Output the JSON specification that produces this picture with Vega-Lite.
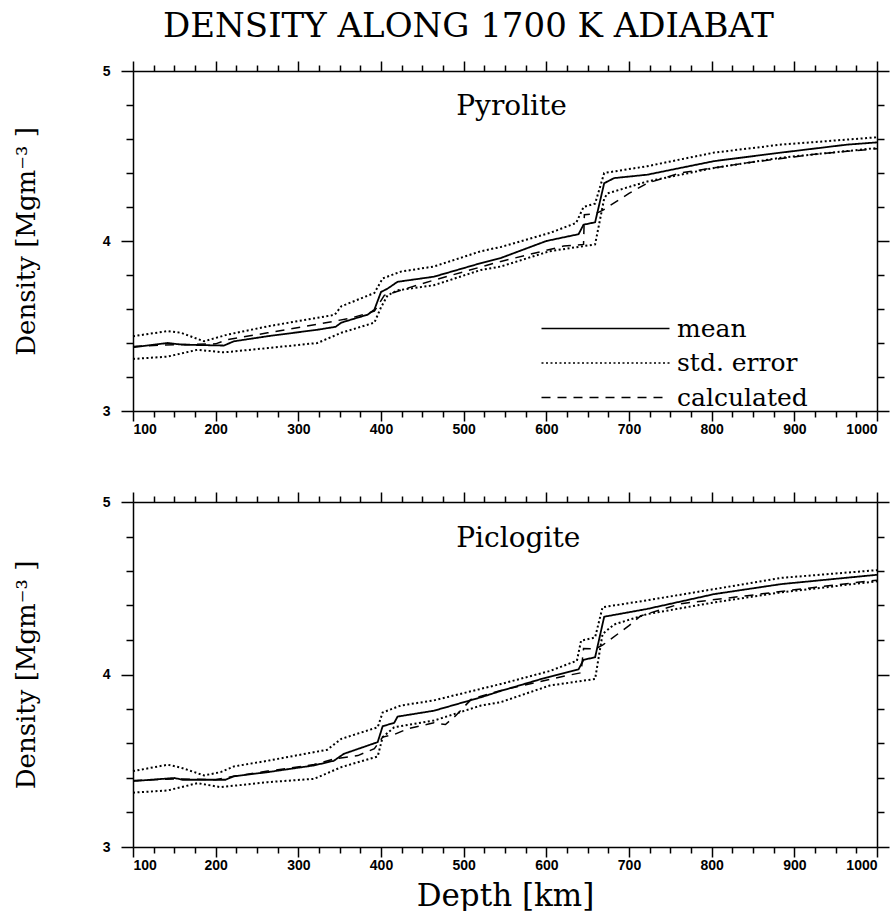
{
 "$schema": "https://vega.github.io/schema/vega-lite/v6.json",
 "padding": {"left": 13, "top": 10, "right": 0, "bottom": 0},
 "background": "white",
 "title": {"text": "DENSITY ALONG 1700 K ADIABAT", "font": "DejaVu Serif", "fontSize": 34, "fontWeight": "normal", "color": "black", "anchor": "middle", "offset": 16, "dx": 17},
 "datasets": {
  "curves": [
   {"panel":"Pyrolite","series":"mean","curve":"mean","depth":100,"density":3.375},
   {"panel":"Pyrolite","series":"mean","curve":"mean","depth":142,"density":3.40},
   {"panel":"Pyrolite","series":"mean","curve":"mean","depth":160,"density":3.39},
   {"panel":"Pyrolite","series":"mean","curve":"mean","depth":210,"density":3.385},
   {"panel":"Pyrolite","series":"mean","curve":"mean","depth":222,"density":3.41},
   {"panel":"Pyrolite","series":"mean","curve":"mean","depth":263,"density":3.44},
   {"panel":"Pyrolite","series":"mean","curve":"mean","depth":323,"density":3.478},
   {"panel":"Pyrolite","series":"mean","curve":"mean","depth":345,"density":3.495},
   {"panel":"Pyrolite","series":"mean","curve":"mean","depth":352,"density":3.52},
   {"panel":"Pyrolite","series":"mean","curve":"mean","depth":384,"density":3.567},
   {"panel":"Pyrolite","series":"mean","curve":"mean","depth":392,"density":3.596},
   {"panel":"Pyrolite","series":"mean","curve":"mean","depth":400,"density":3.70},
   {"panel":"Pyrolite","series":"mean","curve":"mean","depth":408,"density":3.72},
   {"panel":"Pyrolite","series":"mean","curve":"mean","depth":420,"density":3.76},
   {"panel":"Pyrolite","series":"mean","curve":"mean","depth":464,"density":3.79},
   {"panel":"Pyrolite","series":"mean","curve":"mean","depth":521,"density":3.87},
   {"panel":"Pyrolite","series":"mean","curve":"mean","depth":545,"density":3.90},
   {"panel":"Pyrolite","series":"mean","curve":"mean","depth":600,"density":4.0},
   {"panel":"Pyrolite","series":"mean","curve":"mean","depth":639,"density":4.04},
   {"panel":"Pyrolite","series":"mean","curve":"mean","depth":645,"density":4.096},
   {"panel":"Pyrolite","series":"mean","curve":"mean","depth":659,"density":4.11},
   {"panel":"Pyrolite","series":"mean","curve":"mean","depth":670,"density":4.34},
   {"panel":"Pyrolite","series":"mean","curve":"mean","depth":682,"density":4.37},
   {"panel":"Pyrolite","series":"mean","curve":"mean","depth":722,"density":4.39},
   {"panel":"Pyrolite","series":"mean","curve":"mean","depth":803,"density":4.47},
   {"panel":"Pyrolite","series":"mean","curve":"mean","depth":884,"density":4.52},
   {"panel":"Pyrolite","series":"mean","curve":"mean","depth":964,"density":4.567},
   {"panel":"Pyrolite","series":"mean","curve":"mean","depth":1000,"density":4.58},

   {"panel":"Pyrolite","series":"std. error","curve":"upper","depth":100,"density":3.44},
   {"panel":"Pyrolite","series":"std. error","curve":"upper","depth":142,"density":3.47},
   {"panel":"Pyrolite","series":"std. error","curve":"upper","depth":158,"density":3.46},
   {"panel":"Pyrolite","series":"std. error","curve":"upper","depth":186,"density":3.41},
   {"panel":"Pyrolite","series":"std. error","curve":"upper","depth":214,"density":3.449},
   {"panel":"Pyrolite","series":"std. error","curve":"upper","depth":263,"density":3.498},
   {"panel":"Pyrolite","series":"std. error","curve":"upper","depth":344,"density":3.566},
   {"panel":"Pyrolite","series":"std. error","curve":"upper","depth":352,"density":3.616},
   {"panel":"Pyrolite","series":"std. error","curve":"upper","depth":392,"density":3.694},
   {"panel":"Pyrolite","series":"std. error","curve":"upper","depth":402,"density":3.78},
   {"panel":"Pyrolite","series":"std. error","curve":"upper","depth":424,"density":3.82},
   {"panel":"Pyrolite","series":"std. error","curve":"upper","depth":464,"density":3.85},
   {"panel":"Pyrolite","series":"std. error","curve":"upper","depth":521,"density":3.94},
   {"panel":"Pyrolite","series":"std. error","curve":"upper","depth":545,"density":3.965},
   {"panel":"Pyrolite","series":"std. error","curve":"upper","depth":604,"density":4.047},
   {"panel":"Pyrolite","series":"std. error","curve":"upper","depth":636,"density":4.106},
   {"panel":"Pyrolite","series":"std. error","curve":"upper","depth":645,"density":4.20},
   {"panel":"Pyrolite","series":"std. error","curve":"upper","depth":659,"density":4.22},
   {"panel":"Pyrolite","series":"std. error","curve":"upper","depth":670,"density":4.40},
   {"panel":"Pyrolite","series":"std. error","curve":"upper","depth":722,"density":4.44},
   {"panel":"Pyrolite","series":"std. error","curve":"upper","depth":803,"density":4.52},
   {"panel":"Pyrolite","series":"std. error","curve":"upper","depth":884,"density":4.567},
   {"panel":"Pyrolite","series":"std. error","curve":"upper","depth":1000,"density":4.61},

   {"panel":"Pyrolite","series":"std. error","curve":"lower","depth":100,"density":3.306},
   {"panel":"Pyrolite","series":"std. error","curve":"lower","depth":142,"density":3.32},
   {"panel":"Pyrolite","series":"std. error","curve":"lower","depth":178,"density":3.36},
   {"panel":"Pyrolite","series":"std. error","curve":"lower","depth":210,"density":3.345},
   {"panel":"Pyrolite","series":"std. error","curve":"lower","depth":263,"density":3.37},
   {"panel":"Pyrolite","series":"std. error","curve":"lower","depth":323,"density":3.40},
   {"panel":"Pyrolite","series":"std. error","curve":"lower","depth":352,"density":3.46},
   {"panel":"Pyrolite","series":"std. error","curve":"lower","depth":392,"density":3.52},
   {"panel":"Pyrolite","series":"std. error","curve":"lower","depth":400,"density":3.61},
   {"panel":"Pyrolite","series":"std. error","curve":"lower","depth":408,"density":3.68},
   {"panel":"Pyrolite","series":"std. error","curve":"lower","depth":420,"density":3.71},
   {"panel":"Pyrolite","series":"std. error","curve":"lower","depth":464,"density":3.74},
   {"panel":"Pyrolite","series":"std. error","curve":"lower","depth":521,"density":3.83},
   {"panel":"Pyrolite","series":"std. error","curve":"lower","depth":545,"density":3.85},
   {"panel":"Pyrolite","series":"std. error","curve":"lower","depth":604,"density":3.94},
   {"panel":"Pyrolite","series":"std. error","curve":"lower","depth":659,"density":3.98},
   {"panel":"Pyrolite","series":"std. error","curve":"lower","depth":670,"density":4.25},
   {"panel":"Pyrolite","series":"std. error","curve":"lower","depth":674,"density":4.28},
   {"panel":"Pyrolite","series":"std. error","curve":"lower","depth":722,"density":4.35},
   {"panel":"Pyrolite","series":"std. error","curve":"lower","depth":803,"density":4.43},
   {"panel":"Pyrolite","series":"std. error","curve":"lower","depth":884,"density":4.49},
   {"panel":"Pyrolite","series":"std. error","curve":"lower","depth":1000,"density":4.547},

   {"panel":"Pyrolite","series":"calculated","curve":"calc","depth":100,"density":3.38},
   {"panel":"Pyrolite","series":"calculated","curve":"calc","depth":150,"density":3.39},
   {"panel":"Pyrolite","series":"calculated","curve":"calc","depth":200,"density":3.395},
   {"panel":"Pyrolite","series":"calculated","curve":"calc","depth":214,"density":3.42},
   {"panel":"Pyrolite","series":"calculated","curve":"calc","depth":263,"density":3.46},
   {"panel":"Pyrolite","series":"calculated","curve":"calc","depth":323,"density":3.51},
   {"panel":"Pyrolite","series":"calculated","curve":"calc","depth":364,"density":3.547},
   {"panel":"Pyrolite","series":"calculated","curve":"calc","depth":392,"density":3.587},
   {"panel":"Pyrolite","series":"calculated","curve":"calc","depth":404,"density":3.68},
   {"panel":"Pyrolite","series":"calculated","curve":"calc","depth":437,"density":3.73},
   {"panel":"Pyrolite","series":"calculated","curve":"calc","depth":464,"density":3.77},
   {"panel":"Pyrolite","series":"calculated","curve":"calc","depth":545,"density":3.88},
   {"panel":"Pyrolite","series":"calculated","curve":"calc","depth":621,"density":3.97},
   {"panel":"Pyrolite","series":"calculated","curve":"calc","depth":645,"density":3.98},
   {"panel":"Pyrolite","series":"calculated","curve":"calc","depth":646,"density":4.155},
   {"panel":"Pyrolite","series":"calculated","curve":"calc","depth":659,"density":4.16},
   {"panel":"Pyrolite","series":"calculated","curve":"calc","depth":668,"density":4.18},
   {"panel":"Pyrolite","series":"calculated","curve":"calc","depth":700,"density":4.28},
   {"panel":"Pyrolite","series":"calculated","curve":"calc","depth":722,"density":4.34},
   {"panel":"Pyrolite","series":"calculated","curve":"calc","depth":762,"density":4.40},
   {"panel":"Pyrolite","series":"calculated","curve":"calc","depth":843,"density":4.46},
   {"panel":"Pyrolite","series":"calculated","curve":"calc","depth":924,"density":4.51},
   {"panel":"Pyrolite","series":"calculated","curve":"calc","depth":1000,"density":4.543},

   {"panel":"Piclogite","series":"mean","curve":"mean","depth":100,"density":3.382},
   {"panel":"Piclogite","series":"mean","curve":"mean","depth":150,"density":3.40},
   {"panel":"Piclogite","series":"mean","curve":"mean","depth":160,"density":3.39},
   {"panel":"Piclogite","series":"mean","curve":"mean","depth":212,"density":3.39},
   {"panel":"Piclogite","series":"mean","curve":"mean","depth":222,"density":3.41},
   {"panel":"Piclogite","series":"mean","curve":"mean","depth":263,"density":3.434},
   {"panel":"Piclogite","series":"mean","curve":"mean","depth":319,"density":3.473},
   {"panel":"Piclogite","series":"mean","curve":"mean","depth":343,"density":3.50},
   {"panel":"Piclogite","series":"mean","curve":"mean","depth":355,"density":3.54},
   {"panel":"Piclogite","series":"mean","curve":"mean","depth":396,"density":3.608},
   {"panel":"Piclogite","series":"mean","curve":"mean","depth":402,"density":3.70},
   {"panel":"Piclogite","series":"mean","curve":"mean","depth":416,"density":3.72},
   {"panel":"Piclogite","series":"mean","curve":"mean","depth":420,"density":3.756},
   {"panel":"Piclogite","series":"mean","curve":"mean","depth":464,"density":3.79},
   {"panel":"Piclogite","series":"mean","curve":"mean","depth":521,"density":3.868},
   {"panel":"Piclogite","series":"mean","curve":"mean","depth":545,"density":3.905},
   {"panel":"Piclogite","series":"mean","curve":"mean","depth":594,"density":3.974},
   {"panel":"Piclogite","series":"mean","curve":"mean","depth":639,"density":4.03},
   {"panel":"Piclogite","series":"mean","curve":"mean","depth":645,"density":4.085},
   {"panel":"Piclogite","series":"mean","curve":"mean","depth":659,"density":4.10},
   {"panel":"Piclogite","series":"mean","curve":"mean","depth":670,"density":4.335},
   {"panel":"Piclogite","series":"mean","curve":"mean","depth":722,"density":4.38},
   {"panel":"Piclogite","series":"mean","curve":"mean","depth":803,"density":4.466},
   {"panel":"Piclogite","series":"mean","curve":"mean","depth":884,"density":4.524},
   {"panel":"Piclogite","series":"mean","curve":"mean","depth":1000,"density":4.578},

   {"panel":"Piclogite","series":"std. error","curve":"upper","depth":100,"density":3.44},
   {"panel":"Piclogite","series":"std. error","curve":"upper","depth":142,"density":3.477},
   {"panel":"Piclogite","series":"std. error","curve":"upper","depth":158,"density":3.46},
   {"panel":"Piclogite","series":"std. error","curve":"upper","depth":186,"density":3.415},
   {"panel":"Piclogite","series":"std. error","curve":"upper","depth":206,"density":3.434},
   {"panel":"Piclogite","series":"std. error","curve":"upper","depth":222,"density":3.467},
   {"panel":"Piclogite","series":"std. error","curve":"upper","depth":263,"density":3.50},
   {"panel":"Piclogite","series":"std. error","curve":"upper","depth":335,"density":3.564},
   {"panel":"Piclogite","series":"std. error","curve":"upper","depth":352,"density":3.627},
   {"panel":"Piclogite","series":"std. error","curve":"upper","depth":396,"density":3.694},
   {"panel":"Piclogite","series":"std. error","curve":"upper","depth":402,"density":3.78},
   {"panel":"Piclogite","series":"std. error","curve":"upper","depth":424,"density":3.82},
   {"panel":"Piclogite","series":"std. error","curve":"upper","depth":464,"density":3.85},
   {"panel":"Piclogite","series":"std. error","curve":"upper","depth":521,"density":3.917},
   {"panel":"Piclogite","series":"std. error","curve":"upper","depth":545,"density":3.945},
   {"panel":"Piclogite","series":"std. error","curve":"upper","depth":604,"density":4.02},
   {"panel":"Piclogite","series":"std. error","curve":"upper","depth":637,"density":4.08},
   {"panel":"Piclogite","series":"std. error","curve":"upper","depth":642,"density":4.196},
   {"panel":"Piclogite","series":"std. error","curve":"upper","depth":659,"density":4.215},
   {"panel":"Piclogite","series":"std. error","curve":"upper","depth":668,"density":4.39},
   {"panel":"Piclogite","series":"std. error","curve":"upper","depth":722,"density":4.43},
   {"panel":"Piclogite","series":"std. error","curve":"upper","depth":803,"density":4.495},
   {"panel":"Piclogite","series":"std. error","curve":"upper","depth":884,"density":4.56},
   {"panel":"Piclogite","series":"std. error","curve":"upper","depth":1000,"density":4.605},

   {"panel":"Piclogite","series":"std. error","curve":"lower","depth":100,"density":3.315},
   {"panel":"Piclogite","series":"std. error","curve":"lower","depth":142,"density":3.328},
   {"panel":"Piclogite","series":"std. error","curve":"lower","depth":178,"density":3.37},
   {"panel":"Piclogite","series":"std. error","curve":"lower","depth":206,"density":3.347},
   {"panel":"Piclogite","series":"std. error","curve":"lower","depth":263,"density":3.376},
   {"panel":"Piclogite","series":"std. error","curve":"lower","depth":319,"density":3.395},
   {"panel":"Piclogite","series":"std. error","curve":"lower","depth":352,"density":3.463},
   {"panel":"Piclogite","series":"std. error","curve":"lower","depth":396,"density":3.525},
   {"panel":"Piclogite","series":"std. error","curve":"lower","depth":402,"density":3.637},
   {"panel":"Piclogite","series":"std. error","curve":"lower","depth":416,"density":3.694},
   {"panel":"Piclogite","series":"std. error","curve":"lower","depth":464,"density":3.733},
   {"panel":"Piclogite","series":"std. error","curve":"lower","depth":521,"density":3.82},
   {"panel":"Piclogite","series":"std. error","curve":"lower","depth":545,"density":3.84},
   {"panel":"Piclogite","series":"std. error","curve":"lower","depth":604,"density":3.936},
   {"panel":"Piclogite","series":"std. error","curve":"lower","depth":659,"density":3.974},
   {"panel":"Piclogite","series":"std. error","curve":"lower","depth":668,"density":4.235},
   {"panel":"Piclogite","series":"std. error","curve":"lower","depth":682,"density":4.29},
   {"panel":"Piclogite","series":"std. error","curve":"lower","depth":722,"density":4.35},
   {"panel":"Piclogite","series":"std. error","curve":"lower","depth":803,"density":4.418},
   {"panel":"Piclogite","series":"std. error","curve":"lower","depth":884,"density":4.476},
   {"panel":"Piclogite","series":"std. error","curve":"lower","depth":1000,"density":4.54},

   {"panel":"Piclogite","series":"calculated","curve":"calc","depth":100,"density":3.385},
   {"panel":"Piclogite","series":"calculated","curve":"calc","depth":150,"density":3.395},
   {"panel":"Piclogite","series":"calculated","curve":"calc","depth":200,"density":3.39},
   {"panel":"Piclogite","series":"calculated","curve":"calc","depth":222,"density":3.41},
   {"panel":"Piclogite","series":"calculated","curve":"calc","depth":263,"density":3.44},
   {"panel":"Piclogite","series":"calculated","curve":"calc","depth":319,"density":3.478},
   {"panel":"Piclogite","series":"calculated","curve":"calc","depth":343,"density":3.51},
   {"panel":"Piclogite","series":"calculated","curve":"calc","depth":372,"density":3.53},
   {"panel":"Piclogite","series":"calculated","curve":"calc","depth":392,"density":3.57},
   {"panel":"Piclogite","series":"calculated","curve":"calc","depth":402,"density":3.637},
   {"panel":"Piclogite","series":"calculated","curve":"calc","depth":416,"density":3.652},
   {"panel":"Piclogite","series":"calculated","curve":"calc","depth":432,"density":3.685},
   {"panel":"Piclogite","series":"calculated","curve":"calc","depth":464,"density":3.72},
   {"panel":"Piclogite","series":"calculated","curve":"calc","depth":478,"density":3.71},
   {"panel":"Piclogite","series":"calculated","curve":"calc","depth":490,"density":3.76},
   {"panel":"Piclogite","series":"calculated","curve":"calc","depth":510,"density":3.86},
   {"panel":"Piclogite","series":"calculated","curve":"calc","depth":545,"density":3.907},
   {"panel":"Piclogite","series":"calculated","curve":"calc","depth":621,"density":3.99},
   {"panel":"Piclogite","series":"calculated","curve":"calc","depth":642,"density":4.01},
   {"panel":"Piclogite","series":"calculated","curve":"calc","depth":645,"density":4.15},
   {"panel":"Piclogite","series":"calculated","curve":"calc","depth":659,"density":4.148},
   {"panel":"Piclogite","series":"calculated","curve":"calc","depth":668,"density":4.17},
   {"panel":"Piclogite","series":"calculated","curve":"calc","depth":700,"density":4.283},
   {"panel":"Piclogite","series":"calculated","curve":"calc","depth":714,"density":4.34},
   {"panel":"Piclogite","series":"calculated","curve":"calc","depth":762,"density":4.41},
   {"panel":"Piclogite","series":"calculated","curve":"calc","depth":843,"density":4.457},
   {"panel":"Piclogite","series":"calculated","curve":"calc","depth":924,"density":4.505},
   {"panel":"Piclogite","series":"calculated","curve":"calc","depth":1000,"density":4.547}
  ]
 },
 "spacing": 55,
 "vconcat": [
  {
   "width": 744, "height": 340,
   "layer": [
    {
     "data": {"name": "curves"},
     "transform": [{"filter": "datum.panel === 'Pyrolite' && datum.series === 'mean'"}],
     "mark": {"type": "line", "color": "black", "strokeWidth": 1.8},
     "encoding": {
      "x": {"field": "depth", "type": "quantitative", "scale": {"domain": [100, 1000], "nice": false, "zero": false},
            "axis": {"orient": "bottom", "values": [100,200,300,400,500,600,700,800,900,1000], "tickCount": 100, "format": "d", "tickSize": 10, "labelPadding": 1, "labelOverlap": false, "title": null}},
      "y": {"field": "density", "type": "quantitative", "scale": {"domain": [3, 5], "nice": false, "zero": false},
            "axis": {"orient": "left", "values": [3,4,5], "tickCount": 100, "labelExpr": "'' + round(datum.value)", "tickSize": 12, "labelPadding": 11, "labelOverlap": false, "labelFlush": false, "title": "Density [Mgm⁻³ ]", "titlePadding": 63}},
      "detail": {"field": "curve"},
      "strokeDash": {"field": "series", "type": "nominal",
                     "scale": {"domain": ["mean", "std. error", "calculated"], "range": [[1, 0], [2, 2.5], [9, 7]]},
                     "legend": {"orient": "none", "legendX": 460, "legendY": 245, "title": null, "padding": 0,
                                "symbolType": "M-8,0H8", "symbolSize": 256, "symbolStrokeWidth": 1.5, "symbolStrokeColor": "black", "symbolFillColor": "transparent",
                                "labelFont": "DejaVu Serif", "labelFontSize": 25, "labelColor": "black", "labelOffset": 59, "rowPadding": 8.5, "labelLimit": 300}}
     }
    },
    {
     "data": {"name": "curves"},
     "transform": [{"filter": "datum.panel === 'Pyrolite' && datum.series === 'std. error'"}],
     "mark": {"type": "line", "color": "black", "strokeWidth": 2},
     "encoding": {
      "x": {"field": "depth", "type": "quantitative",
            "axis": {"orient": "bottom", "values": [125,150,175,225,250,275,325,350,375,425,450,475,525,550,575,625,650,675,725,750,775,825,850,875,925,950,975], "tickCount": 100, "tickSize": 6, "labels": false, "domain": false, "title": null}},
      "y": {"field": "density", "type": "quantitative",
            "axis": {"orient": "left", "values": [3.2,3.4,3.6,3.8,4.2,4.4,4.6,4.8], "tickCount": 100, "tickSize": 7, "labels": false, "domain": false, "title": null}},
      "detail": {"field": "curve"},
      "strokeDash": {"field": "series", "type": "nominal"}
     }
    },
    {
     "data": {"name": "curves"},
     "transform": [{"filter": "datum.panel === 'Pyrolite' && datum.series === 'calculated'"}],
     "mark": {"type": "line", "color": "black", "strokeWidth": 1.5},
     "encoding": {
      "x": {"field": "depth", "type": "quantitative",
            "axis": {"orient": "top", "values": [100,200,300,400,500,600,700,800,900,1000], "tickCount": 100, "tickSize": 10, "labels": false, "title": null}},
      "y": {"field": "density", "type": "quantitative",
            "axis": {"orient": "right", "values": [3,4,5], "tickCount": 100, "tickSize": 12, "labels": false, "title": null}},
      "detail": {"field": "curve"},
      "strokeDash": {"field": "series", "type": "nominal"}
     }
    },
    {
     "data": {"values": [{"label": "Pyrolite"}]},
     "mark": {"type": "text", "align": "left", "baseline": "alphabetic", "font": "DejaVu Serif", "fontSize": 28, "color": "black"},
     "encoding": {
      "x": {"datum": 491, "type": "quantitative",
            "axis": {"orient": "top", "values": [125,150,175,225,250,275,325,350,375,425,450,475,525,550,575,625,650,675,725,750,775,825,850,875,925,950,975], "tickCount": 100, "tickSize": 6, "labels": false, "domain": false, "title": null}},
      "y": {"datum": 4.74, "type": "quantitative",
            "axis": {"orient": "right", "values": [3.2,3.4,3.6,3.8,4.2,4.4,4.6,4.8], "tickCount": 100, "tickSize": 7, "labels": false, "domain": false, "title": null}},
      "text": {"field": "label"}
     }
    }
   ],
   "resolve": {"axis": {"x": "independent", "y": "independent"}}
  },
  {
   "width": 744, "height": 345,
   "layer": [
    {
     "data": {"name": "curves"},
     "transform": [{"filter": "datum.panel === 'Piclogite' && datum.series === 'mean'"}],
     "mark": {"type": "line", "color": "black", "strokeWidth": 1.8},
     "encoding": {
      "x": {"field": "depth", "type": "quantitative", "scale": {"domain": [100, 1000], "nice": false, "zero": false},
            "axis": {"orient": "bottom", "values": [100,200,300,400,500,600,700,800,900,1000], "tickCount": 100, "format": "d", "tickSize": 10, "labelPadding": 1, "labelOverlap": false, "title": "Depth [km]", "titleFontSize": 31, "titlePadding": 9}},
      "y": {"field": "density", "type": "quantitative", "scale": {"domain": [3, 5], "nice": false, "zero": false},
            "axis": {"orient": "left", "values": [3,4,5], "tickCount": 100, "labelExpr": "'' + round(datum.value)", "tickSize": 12, "labelPadding": 11, "labelOverlap": false, "labelFlush": false, "title": "Density [Mgm⁻³ ]", "titlePadding": 63}},
      "detail": {"field": "curve"},
      "strokeDash": {"field": "series", "type": "nominal",
                     "scale": {"domain": ["mean", "std. error", "calculated"], "range": [[1, 0], [2, 2.5], [9, 7]]},
                     "legend": null}
     }
    },
    {
     "data": {"name": "curves"},
     "transform": [{"filter": "datum.panel === 'Piclogite' && datum.series === 'std. error'"}],
     "mark": {"type": "line", "color": "black", "strokeWidth": 2},
     "encoding": {
      "x": {"field": "depth", "type": "quantitative",
            "axis": {"orient": "bottom", "values": [125,150,175,225,250,275,325,350,375,425,450,475,525,550,575,625,650,675,725,750,775,825,850,875,925,950,975], "tickCount": 100, "tickSize": 6, "labels": false, "domain": false, "title": null}},
      "y": {"field": "density", "type": "quantitative",
            "axis": {"orient": "left", "values": [3.2,3.4,3.6,3.8,4.2,4.4,4.6,4.8], "tickCount": 100, "tickSize": 7, "labels": false, "domain": false, "title": null}},
      "detail": {"field": "curve"},
      "strokeDash": {"field": "series", "type": "nominal", "legend": null}
     }
    },
    {
     "data": {"name": "curves"},
     "transform": [{"filter": "datum.panel === 'Piclogite' && datum.series === 'calculated'"}],
     "mark": {"type": "line", "color": "black", "strokeWidth": 1.5},
     "encoding": {
      "x": {"field": "depth", "type": "quantitative",
            "axis": {"orient": "top", "values": [100,200,300,400,500,600,700,800,900,1000], "tickCount": 100, "tickSize": 10, "labels": false, "title": null}},
      "y": {"field": "density", "type": "quantitative",
            "axis": {"orient": "right", "values": [3,4,5], "tickCount": 100, "tickSize": 12, "labels": false, "title": null}},
      "detail": {"field": "curve"},
      "strokeDash": {"field": "series", "type": "nominal", "legend": null}
     }
    },
    {
     "data": {"values": [{"label": "Piclogite"}]},
     "mark": {"type": "text", "align": "left", "baseline": "alphabetic", "font": "DejaVu Serif", "fontSize": 28, "color": "black"},
     "encoding": {
      "x": {"datum": 491, "type": "quantitative",
            "axis": {"orient": "top", "values": [125,150,175,225,250,275,325,350,375,425,450,475,525,550,575,625,650,675,725,750,775,825,850,875,925,950,975], "tickCount": 100, "tickSize": 6, "labels": false, "domain": false, "title": null}},
      "y": {"datum": 4.74, "type": "quantitative",
            "axis": {"orient": "right", "values": [3.2,3.4,3.6,3.8,4.2,4.4,4.6,4.8], "tickCount": 100, "tickSize": 7, "labels": false, "domain": false, "title": null}},
      "text": {"field": "label"}
     }
    }
   ],
   "resolve": {"axis": {"x": "independent", "y": "independent"}}
  }
 ],
 "resolve": {"scale": {"strokeDash": "independent"}, "legend": {"strokeDash": "independent"}},
 "config": {
  "view": {"stroke": null},
  "axis": {"grid": false, "domainColor": "black", "domainWidth": 1.5, "tickColor": "black", "tickWidth": 1.5,
           "labelFont": "Liberation Sans", "labelFontWeight": "bold", "labelFontSize": 14, "labelColor": "black",
           "titleFont": "DejaVu Serif", "titleFontWeight": "normal", "titleFontSize": 26, "titleColor": "black"}
 }
}
